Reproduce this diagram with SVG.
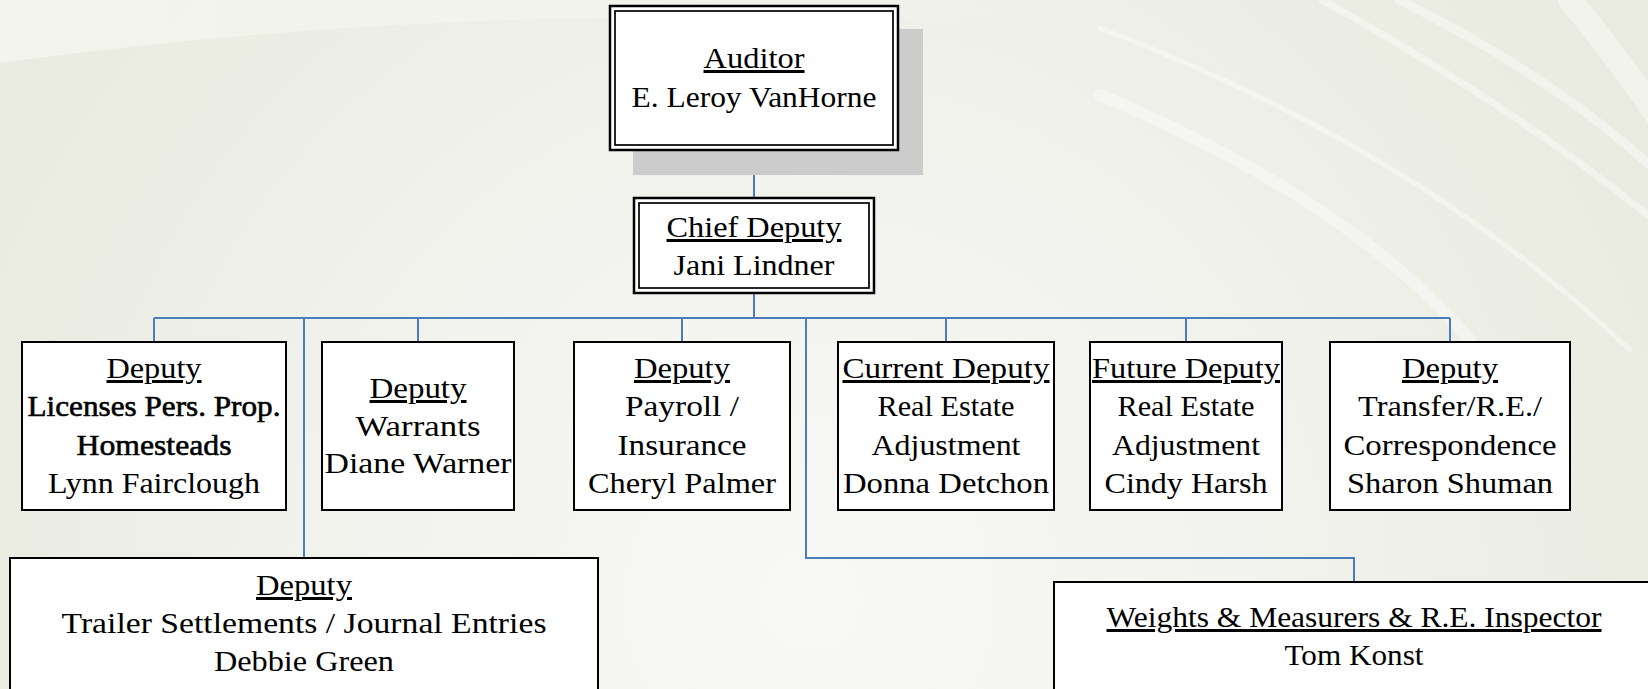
<svg xmlns="http://www.w3.org/2000/svg" width="1648" height="689" viewBox="0 0 1648 689">
<defs>
<radialGradient id="bg" cx="810" cy="600" r="1150" gradientUnits="userSpaceOnUse">
<stop offset="0" stop-color="#f8f8f6"/>
<stop offset="0.35" stop-color="#f2f3ee"/>
<stop offset="0.7" stop-color="#ebede3"/>
<stop offset="1" stop-color="#e6e9dc"/>
</radialGradient>
<linearGradient id="band" x1="0" y1="0" x2="1" y2="0">
<stop offset="0" stop-color="#f4f5ee" stop-opacity="0.9"/>
<stop offset="0.6" stop-color="#f4f5ee" stop-opacity="0.6"/>
<stop offset="1" stop-color="#f4f5ee" stop-opacity="0"/>
</linearGradient>
<style>
.box{fill:#ffffff;stroke:#000000;stroke-width:2}
.dbl-o{fill:#ffffff;stroke:#000000;stroke-width:2.5}
.dbl-i{fill:none;stroke:#000000;stroke-width:1.7}
.t{font-family:'Liberation Serif','Times New Roman',serif;font-size:30px;fill:#000000;text-anchor:middle}
.u{text-decoration:underline}
.b{stroke:#000000;stroke-width:0.6}
.con{fill:none;stroke:#4a7ebb;stroke-width:2}
.swoosh{fill:none;stroke:#ffffff;stroke-linecap:round}
</style>
</defs>
<rect x="0" y="0" width="1648" height="689" fill="url(#bg)"/>
<path d="M0,0 L0,63 Q300,22 600,18 Q900,14 1100,28 L1100,0 Z" fill="url(#band)"/>
<g opacity="0.4">
<path class="swoosh" stroke-width="9" d="M1399,0 Q1560,80 1660,175"/>
<path class="swoosh" stroke-width="7" d="M1322,0 Q1520,110 1660,225"/>
<path class="swoosh" stroke-width="5" d="M1100,28 Q1420,150 1630,350"/>
<path class="swoosh" stroke-width="12" d="M1100,95 Q1350,200 1470,340"/>
<path class="swoosh" stroke-width="24" d="M1570,0 Q1620,60 1660,120"/>
</g>
<g id="connectors">
<line class="con" x1="754" y1="151" x2="754" y2="198"/>
<line class="con" x1="754" y1="293" x2="754" y2="318"/>
<line class="con" x1="154" y1="318" x2="1450" y2="318"/>
<line class="con" x1="154" y1="318" x2="154" y2="342"/>
<line class="con" x1="418" y1="318" x2="418" y2="342"/>
<line class="con" x1="682" y1="318" x2="682" y2="342"/>
<line class="con" x1="946" y1="318" x2="946" y2="342"/>
<line class="con" x1="1186" y1="318" x2="1186" y2="342"/>
<line class="con" x1="1450" y1="318" x2="1450" y2="342"/>
<line class="con" x1="304" y1="318" x2="304" y2="558"/>
<polyline class="con" points="806,318 806,558 1354,558 1354,582"/>
</g>
<g id="auditor">
<rect x="633" y="29" width="290" height="146" fill="#cccccc"/>
<rect class="dbl-o" x="610" y="6" width="288" height="144"/>
<rect class="dbl-i" x="615" y="11" width="278" height="134"/>
<text class="t u" x="754" y="68" textLength="101" lengthAdjust="spacingAndGlyphs">Auditor</text>
<text class="t" x="754" y="107" textLength="245" lengthAdjust="spacingAndGlyphs">E. Leroy VanHorne</text>
</g>
<g id="chief-deputy">
<rect class="dbl-o" x="634" y="198" width="240" height="95"/>
<rect class="dbl-i" x="639" y="203" width="230" height="85"/>
<text class="t u" x="754" y="237" textLength="175" lengthAdjust="spacingAndGlyphs">Chief Deputy</text>
<text class="t" x="754" y="275" textLength="161" lengthAdjust="spacingAndGlyphs">Jani Lindner</text>
</g>
<g id="deputy-licenses">
<rect class="box" x="22" y="342" width="264" height="168"/>
<text class="t u" x="154" y="378" textLength="95" lengthAdjust="spacingAndGlyphs">Deputy</text>
<text class="t b" x="154" y="416" textLength="253" lengthAdjust="spacingAndGlyphs">Licenses Pers. Prop.</text>
<text class="t b" x="154" y="455" textLength="155" lengthAdjust="spacingAndGlyphs">Homesteads</text>
<text class="t" x="154" y="493" textLength="212" lengthAdjust="spacingAndGlyphs">Lynn Fairclough</text>
</g>
<g id="deputy-warrants">
<rect class="box" x="322" y="342" width="192" height="168"/>
<text class="t u" x="418" y="398" textLength="97" lengthAdjust="spacingAndGlyphs">Deputy</text>
<text class="t" x="418" y="436" textLength="125" lengthAdjust="spacingAndGlyphs">Warrants</text>
<text class="t" x="418" y="473" textLength="187" lengthAdjust="spacingAndGlyphs">Diane Warner</text>
</g>
<g id="deputy-payroll">
<rect class="box" x="574" y="342" width="216" height="168"/>
<text class="t u" x="682" y="378" textLength="96" lengthAdjust="spacingAndGlyphs">Deputy</text>
<text class="t" x="682" y="416" textLength="114" lengthAdjust="spacingAndGlyphs">Payroll /</text>
<text class="t" x="682" y="455" textLength="129" lengthAdjust="spacingAndGlyphs">Insurance</text>
<text class="t" x="682" y="493" textLength="188" lengthAdjust="spacingAndGlyphs">Cheryl Palmer</text>
</g>
<g id="current-deputy">
<rect class="box" x="838" y="342" width="216" height="168"/>
<text class="t u" x="946" y="378" textLength="207" lengthAdjust="spacingAndGlyphs">Current Deputy</text>
<text class="t" x="946" y="416" textLength="137" lengthAdjust="spacingAndGlyphs">Real Estate</text>
<text class="t" x="946" y="455" textLength="149" lengthAdjust="spacingAndGlyphs">Adjustment</text>
<text class="t" x="946" y="493" textLength="206" lengthAdjust="spacingAndGlyphs">Donna Detchon</text>
</g>
<g id="future-deputy">
<rect class="box" x="1090" y="342" width="192" height="168"/>
<text class="t u" x="1186" y="378" textLength="188" lengthAdjust="spacingAndGlyphs">Future Deputy</text>
<text class="t" x="1186" y="416" textLength="137" lengthAdjust="spacingAndGlyphs">Real Estate</text>
<text class="t" x="1186" y="455" textLength="148" lengthAdjust="spacingAndGlyphs">Adjustment</text>
<text class="t" x="1186" y="493" textLength="163" lengthAdjust="spacingAndGlyphs">Cindy Harsh</text>
</g>
<g id="deputy-transfer">
<rect class="box" x="1330" y="342" width="240" height="168"/>
<text class="t u" x="1450" y="378" textLength="96" lengthAdjust="spacingAndGlyphs">Deputy</text>
<text class="t" x="1450" y="416" textLength="184" lengthAdjust="spacingAndGlyphs">Transfer/R.E./</text>
<text class="t" x="1450" y="455" textLength="213" lengthAdjust="spacingAndGlyphs">Correspondence</text>
<text class="t" x="1450" y="493" textLength="206" lengthAdjust="spacingAndGlyphs">Sharon Shuman</text>
</g>
<g id="deputy-trailer">
<rect class="box" x="10" y="558" width="588" height="200"/>
<text class="t u" x="304" y="595" textLength="96" lengthAdjust="spacingAndGlyphs">Deputy</text>
<text class="t" x="304" y="633" textLength="485" lengthAdjust="spacingAndGlyphs">Trailer Settlements / Journal Entries</text>
<text class="t" x="304" y="671" textLength="180" lengthAdjust="spacingAndGlyphs">Debbie Green</text>
</g>
<g id="weights-inspector">
<rect class="box" x="1054" y="582" width="640" height="200"/>
<text class="t u" x="1354" y="627" textLength="495" lengthAdjust="spacingAndGlyphs">Weights &amp; Measurers &amp; R.E. Inspector</text>
<text class="t" x="1354" y="665" textLength="139" lengthAdjust="spacingAndGlyphs">Tom Konst</text>
</g>
</svg>
